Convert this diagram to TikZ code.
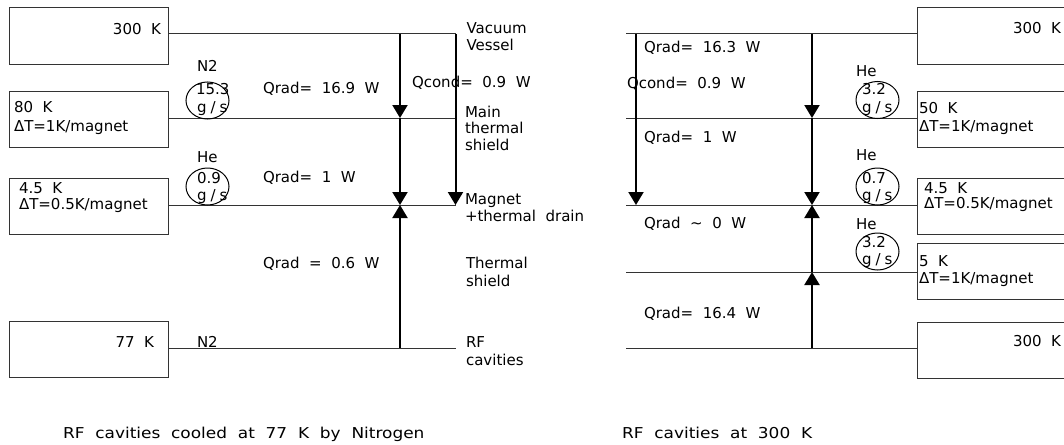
\documentclass[tikz,border=0pt]{standalone}
\usepackage{fontspec}
\setmainfont{DejaVu Sans}[WordSpace=2]
\usetikzlibrary{arrows.meta,shapes.geometric}
\begin{document}
\begin{tikzpicture}[x=1pt,y=-1pt,
  every node/.style={inner sep=0pt, outer sep=0pt, font=\fontsize{15}{18}\selectfont},
  box/.style={draw=black!80, line width=1pt, minimum height=56pt, anchor=north west},
  lbox/.style={box, minimum width=159pt},
  rbox/.style={box, minimum width=200pt},
  hline/.style={draw=black!80, line width=1pt},
  flow/.style={draw=black, line width=2pt, -{Triangle[width=15pt,length=13pt]}},
  lbl/.style={anchor=base west},
  lblr/.style={anchor=base east},
  ring/.style={draw=black, line width=1pt, ellipse, minimum width=43pt, minimum height=37pt},
  captxt/.style={anchor=base west, xscale=1.13}]
\clip (0,0) rectangle (1064,444);

% ---------------- left diagram ----------------
\node[lbox] (L300) at (9,8) {};
\node[lbox] (L80) at (9,91) {};
\node[lbox] (L45) at (9,178) {};
\node[lbox] (L77) at (9,321) {};

\coordinate (le0) at (455.5,34);
\coordinate (le1) at (455.5,118);
\coordinate (le2) at (455.5,205);
\coordinate (le3) at (455.5,348);
\draw[hline] (L300.east |- le0) -- (le0);
\draw[hline] (L80.east |- le1) -- (le1);
\draw[hline] (L45.east |- le2) -- (le2);
\draw[hline] (L77.east |- le3) -- (le3);

\coordinate (va0) at (400,34);
\coordinate (va1) at (400,118);
\coordinate (va2) at (400,205);
\coordinate (va3) at (400,348);
\draw[flow] (va0) -- (va1);
\draw[flow] (va1) -- (va2);
\draw[flow] (va3) -- (va2);
\draw[flow] (le0) -- (le2);

\node[lblr] (t300) at (161,34.3) {300 K};
\node[lbl] (t80) at (14,112.7) {80 K};
\node[lbl] (t80d) at (14,131) {ΔT=1K/magnet};
\node[lbl] (t45) at (19,193) {4.5 K};
\node[lbl] (t45d) at (19,209) {ΔT=0.5K/magnet};
\node[lblr] (t77) at (154,347) {77 K};
\node[lbl] (tn2b) at (197,347) {N2};

\node[lbl] (tn2) at (197,71) {N2};
\node[ring] (ring1) at (207.5,100.5) {};
\node[lbl] (r1a) at (196,94) {15.3};
\node[lbl] (r1b) at (197,112) {g\kern4pt/\kern4pt s};
\node[lbl] (the1) at (197,162.7) {He};
\node[ring] (ring2) at (207.5,186.5) {};
\node[lbl] (r2a) at (197,183) {0.9};
\node[lbl] (r2b) at (197,200) {g\kern4pt/\kern4pt s};

\node[lbl] (q1) at (263,93) {Qrad= 16.9 W};
\node[lbl] (q2) at (263,182) {Qrad= 1 W};
\node[lbl] (q3) at (263,268) {Qrad = 0.6 W};
\node[lbl] (qc) at (412,87) {Qcond= 0.9 W};

\node[lbl] (s1a) at (466.5,34) {Vacuum};
\node[lbl] (s1b) at (466.5,50) {Vessel};
\node[lbl] (s2a) at (465,117) {Main};
\node[lbl] (s2b) at (465,133) {thermal};
\node[lbl] (s2c) at (465,150) {shield};
\node[lbl] (s3a) at (465,204) {Magnet};
\node[lbl] (s3b) at (465,221) {+thermal drain};
\node[lbl] (s4a) at (466,268) {Thermal};
\node[lbl] (s4b) at (466,286) {shield};
\node[lbl] (s5a) at (466,347) {RF};
\node[lbl] (s5b) at (466,365) {cavities};

\node[captxt] (capL) at (63,438) {RF cavities cooled at 77 K by Nitrogen};

% ---------------- right diagram ----------------
\node[rbox] (R300) at (917,8) {};
\node[rbox] (R50) at (917,91) {};
\node[rbox] (R45) at (917,178) {};
\node[rbox] (R5) at (917,243) {};
\node[rbox] (R300b) at (917,322) {};

\coordinate (re0) at (626,34);
\coordinate (re1) at (626,118);
\coordinate (re2) at (626,205);
\coordinate (re3) at (626,272);
\coordinate (re4) at (626,348);
\draw[hline] (re0) -- (R300.west |- re0);
\draw[hline] (re1) -- (R50.west |- re1);
\draw[hline] (re2) -- (R45.west |- re2);
\draw[hline] (re3) -- (R5.west |- re3);
\draw[hline] (re4) -- (R300b.west |- re4);

\coordinate (wa0) at (636,34);
\coordinate (wa2) at (636,205);
\draw[flow] (wa0) -- (wa2);
\coordinate (vb0) at (812,34);
\coordinate (vb1) at (812,118);
\coordinate (vb2) at (812,205);
\coordinate (vb3) at (812,272);
\coordinate (vb4) at (812,348);
\draw[flow] (vb0) -- (vb1);
\draw[flow] (vb1) -- (vb2);
\draw[flow] (vb3) -- (vb2);
\draw[flow] (vb4) -- (vb3);

\node[lblr] (u300) at (1061,34) {300 K};
\node[lbl] (u50) at (919,113) {50 K};
\node[lbl] (u50d) at (919,131) {ΔT=1K/magnet};
\node[lbl] (u45) at (924,193) {4.5 K};
\node[lbl] (u45d) at (924,208) {ΔT=0.5K/magnet};
\node[lbl] (u5) at (919,266) {5 K};
\node[lbl] (u5d) at (919,283) {ΔT=1K/magnet};
\node[lblr] (u300b) at (1061,346) {300 K};

\node[lbl] (he3) at (856,76) {He};
\node[ring] (ring3) at (877.5,100) {};
\node[lbl] (r3a) at (862,94) {3.2};
\node[lbl] (r3b) at (862,112) {g\kern4pt/\kern4pt s};
\node[lbl] (he4) at (856,160) {He};
\node[ring] (ring4) at (877.5,186.5) {};
\node[lbl] (r4a) at (862,183) {0.7};
\node[lbl] (r4b) at (862,200) {g\kern4pt/\kern4pt s};
\node[lbl] (he5) at (856,229) {He};
\node[ring] (ring5) at (877.5,251.5) {};
\node[lbl] (r5a) at (862,247) {3.2};
\node[lbl] (r5b) at (862,264) {g\kern4pt/\kern4pt s};

\node[lbl] (p1) at (644,52.7) {Qrad= 16.3 W};
\node[lbl] (pc) at (627,88) {Qcond= 0.9 W};
\node[lbl] (p2) at (644,142.7) {Qrad= 1 W};
\node[lbl] (p3) at (644,228) {Qrad \char`\~{} 0 W};
\node[lbl] (p4) at (644,318) {Qrad= 16.4 W};

\node[captxt] (capR) at (622,438) {RF cavities at 300 K};
\end{tikzpicture}
\end{document}
